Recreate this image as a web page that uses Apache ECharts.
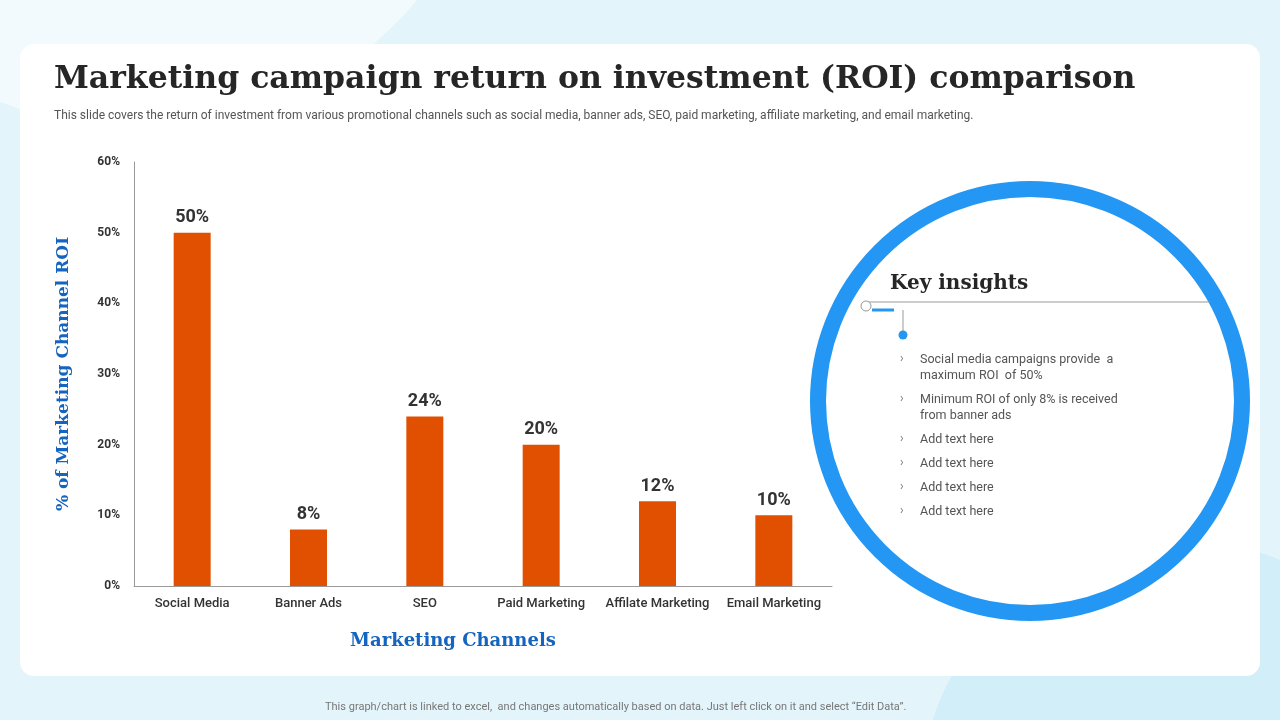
<!DOCTYPE html>
<html>
<head>
<meta charset="utf-8">
<script src="https://cdn.jsdelivr.net/npm/echarts@6/dist/echarts.min.js"></script>
<style>html,body{margin:0;padding:0;background:#e4f4fb}#main{width:1280px;height:720px}</style>
</head>
<body>
<div id="main"></div>
<script>
var categories = ['Social Media', 'Banner Ads', 'SEO', 'Paid Marketing', 'Affilate Marketing', 'Email Marketing'];
var roiValues = [50, 8, 24, 20, 12, 10];
var yTicks = [0, 10, 20, 30, 40, 50, 60];
var insights = [
  'Social media campaigns provide  a\nmaximum ROI  of 50%',
  'Minimum ROI of only 8% is received\nfrom banner ads',
  'Add text here', 'Add text here', 'Add text here', 'Add text here'
];

var chart = echarts.init(document.getElementById('main'));

// bullet list for key insights
var bulletY = [359, 399, 439, 463, 487, 511];
var bulletGraphics = [];
insights.forEach(function (t, i) {
  bulletGraphics.push({ type: 'text', left: 900, top: bulletY[i] - 6, style: { text: '›', fill: '#777', font: '12px Roboto' } });
  bulletGraphics.push({ type: 'text', left: 920, top: bulletY[i] - 7, style: { text: t, fill: '#555', font: '12.5px Roboto', lineHeight: 16 } });
});

var option = {
  backgroundColor: '#e4f4fb',
  graphic: [
    { type: 'circle', shape: { cx: 140, cy: -230, r: 360 }, style: { fill: '#f2fafd' }, z: -10 },
    { type: 'circle', shape: { cx: 1180, cy: 800, r: 260 }, style: { fill: '#d2eef9' }, z: -10 },
    { type: 'rect', shape: { x: 20, y: 44, width: 1240, height: 632, r: 14 }, style: { fill: '#ffffff' }, z: -5 },
    { type: 'text', left: 54, top: 64, style: { text: 'Marketing campaign return on investment (ROI) comparison', fill: '#262626', font: 'bold 31.5px "DejaVu Serif"' } },
    { type: 'text', left: 54, top: 110, style: { text: 'This slide covers the return of investment from various promotional channels such as social media, banner ads, SEO, paid marketing, affiliate marketing, and email marketing.', fill: '#555', font: '12px Roboto' } },
    { type: 'text', left: 325, top: 702, style: { text: 'This graph/chart is linked to excel,  and changes automatically based on data. Just left click on it and select \u201cEdit Data\u201d.', fill: '#777', font: '11px Roboto' } },
    { type: 'circle', shape: { cx: 1030, cy: 401, r: 212 }, style: { fill: 'none', stroke: '#2397f3', lineWidth: 16 } },
    { type: 'text', left: 890, top: 274, style: { text: 'Key insights', fill: '#262626', font: 'bold 20px "DejaVu Serif"' } },
    { type: 'line', shape: { x1: 866, y1: 302, x2: 1210, y2: 302 }, style: { stroke: '#999', lineWidth: 1 } },
    { type: 'circle', shape: { cx: 866, cy: 306, r: 5 }, style: { fill: '#fff', stroke: '#999', lineWidth: 1 } },
    { type: 'line', shape: { x1: 872, y1: 310, x2: 894, y2: 310 }, style: { stroke: '#2397f3', lineWidth: 3 } },
    { type: 'line', shape: { x1: 903, y1: 310, x2: 903, y2: 334 }, style: { stroke: '#999', lineWidth: 1 } },
    { type: 'circle', shape: { cx: 903, cy: 335, r: 4.5 }, style: { fill: '#2397f3' } }
  ].concat(bulletGraphics),
  grid: { left: 134, top: 162, width: 698, height: 424, containLabel: false },
  xAxis: {
    type: 'category',
    data: categories,
    name: 'Marketing Channels',
    nameLocation: 'middle',
    nameGap: 46,
    nameTextStyle: { color: '#1565c0', fontFamily: 'DejaVu Serif', fontWeight: 'bold', fontSize: 18, padding: [0, 60, 0, 0] },
    axisLine: { lineStyle: { color: '#999' } },
    axisTick: { show: false },
    axisLabel: { interval: 0, color: '#333', fontSize: 13, fontFamily: 'Roboto', fontWeight: 500, margin: 11 }
  },
  yAxis: {
    type: 'value',
    min: yTicks[0], max: yTicks[yTicks.length - 1], interval: 10,
    name: '% of Marketing Channel ROI',
    nameLocation: 'middle',
    nameGap: 62,
    nameTextStyle: { color: '#1565c0', fontFamily: 'DejaVu Serif', fontWeight: 'bold', fontSize: 17, padding: [0, 0, 0, 0] },
    axisLine: { show: true, lineStyle: { color: '#999' } },
    axisTick: { show: false },
    splitLine: { show: false },
    axisLabel: { formatter: '{value}%', color: '#333', fontSize: 12, fontWeight: 'bold', fontFamily: 'Roboto', margin: 14 }
  },
  series: [{
    type: 'bar',
    data: roiValues,
    barWidth: 37,
    itemStyle: { color: '#e05000' },
    label: { show: true, position: 'top', formatter: '{c}%', color: '#333', fontSize: 18, fontWeight: 'bold', fontFamily: 'Roboto', distance: 6 }
  }]
};
chart.setOption(option);
</script>
</body>
</html>
